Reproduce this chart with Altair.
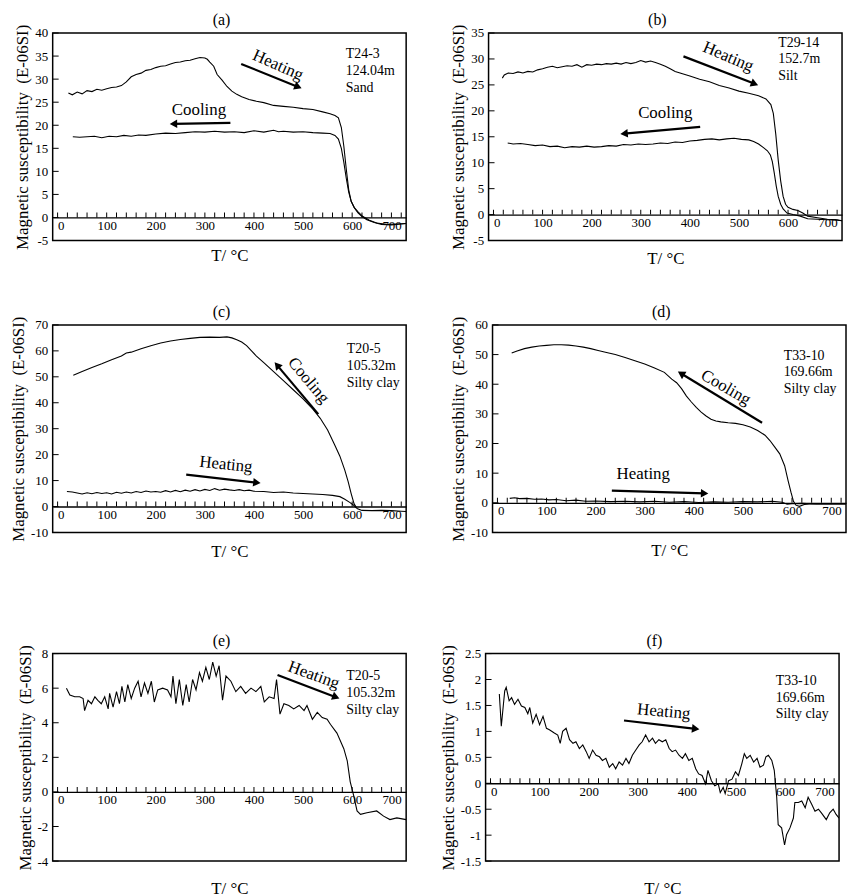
import math
import altair as alt
import pandas as pd

FONT = "Liberation Serif"
W, H = 356, 209
X_DOMAIN = [-10, 710]
X_LABELS = [0, 100, 200, 300, 400, 500, 600, 700]
X_MINOR = list(range(0, 701, 20))
Y_TITLE = "Magnetic susceptibility\u00a0\u00a0(E-06SI)"
X_TITLE = "T/ \u00b0C"

# ---------------- (a) T24-3 ----------------
A_HT = [22, 30, 40, 50, 60, 70, 80, 90, 100, 110, 120, 130, 140, 150, 160, 170, 180, 190, 200, 210,
        220, 230, 240, 250, 260, 270, 280, 290, 300, 305, 310, 318, 325, 335, 345, 355, 365, 375, 390, 405,
        420, 440, 460, 480, 500, 520, 540, 555, 565, 572, 578, 583, 588, 593, 598, 605, 612, 620, 630, 645,
        660, 680, 700, 710]
A_HV = [27.0, 26.6, 27.2, 26.8, 27.5, 27.3, 27.8, 27.6, 27.9, 28.2, 28.3, 28.6, 29.4, 30.5, 31.0, 31.3, 31.9, 32.1, 32.5, 32.8,
        32.9, 33.3, 33.6, 33.7, 34.0, 34.1, 34.4, 34.7, 34.6, 34.3, 33.7, 32.8, 31.0, 29.8, 28.4, 27.4, 26.7, 26.2, 25.6, 25.2,
        24.9, 24.3, 24.1, 23.9, 23.6, 23.4, 22.9, 22.5, 22.1, 21.6, 19.5, 15.5, 10.5, 6.0, 3.5, 2.0, 1.0, 0.2, -0.5, -1.1,
        -1.5, -1.6, -1.4, -1.3]
A_CT = [31, 45, 60, 75, 90, 105, 120, 135, 150, 165, 180, 200, 220, 240, 260, 280, 300, 320, 340, 360,
        380, 400, 420, 440, 450, 460, 480, 500, 520, 540, 555, 565, 572, 578, 583, 588, 593, 598, 604, 612,
        622, 635, 650, 670, 690, 710]
A_CV = [17.5, 17.4, 17.5, 17.6, 17.3, 17.6, 17.5, 17.8, 17.6, 17.9, 17.8, 18.1, 18.3, 18.2, 18.4, 18.6, 18.5, 18.7, 18.5, 18.6,
        18.4, 18.8, 18.5, 18.9, 18.6, 18.7, 18.5, 18.6, 18.4, 18.3, 18.2, 17.8, 17.0, 15.0, 12.0, 8.5, 5.5, 3.5, 2.2, 1.2,
        0.2, -0.6, -1.2, -1.5, -1.4, -1.3]

# ---------------- (b) T29-14 ----------------
B_HT = [18, 22, 30, 40, 50, 60, 70, 80, 90, 100, 110, 120, 130, 140, 150, 160, 170, 180, 190, 200,
        210, 220, 230, 240, 250, 260, 270, 280, 290, 300, 310, 320, 330, 340, 350, 360, 370, 380, 390, 400,
        420, 440, 460, 480, 500, 520, 540, 555, 565, 570, 575, 580, 585, 590, 595, 600, 610, 620, 630, 640,
        660, 680, 700, 710]
B_HV = [26.3, 26.9, 27.3, 27.2, 27.5, 27.3, 27.6, 27.5, 27.9, 28.1, 28.4, 28.6, 28.3, 28.5, 28.7, 28.6, 28.9, 28.4, 28.9, 28.8,
        29.0, 28.9, 29.1, 29.0, 29.2, 29.0, 29.3, 29.1, 29.3, 29.7, 29.4, 29.6, 29.3, 29.0, 28.6, 28.1, 27.6, 27.3, 27.0, 26.7,
        26.1, 25.6, 24.9, 24.4, 23.8, 23.4, 22.9, 22.3, 21.2, 19.5, 15.5, 10.5, 6.5, 3.5, 2.0, 1.4, 1.0, 0.8, 0.3, -0.3,
        -0.6, -0.9, -1.0, -1.2]
B_CT = [29, 40, 55, 70, 85, 100, 115, 130, 145, 160, 175, 190, 205, 220, 235, 250, 265, 280, 295, 310,
        325, 340, 355, 370, 385, 400, 415, 430, 445, 460, 475, 490, 505, 520, 530, 540, 550, 558, 564, 568,
        572, 576, 580, 585, 590, 598, 610, 625, 640, 660, 680, 700, 710]
B_CV = [13.8, 13.6, 13.7, 13.5, 13.3, 13.4, 13.1, 13.2, 12.9, 13.1, 13.0, 13.2, 13.0, 13.1, 13.3, 13.2, 13.5, 13.4, 13.6, 13.5,
        13.6, 13.8, 13.7, 14.0, 13.9, 14.2, 14.3, 14.5, 14.6, 14.4, 14.6, 14.7, 14.5, 14.4, 14.1, 13.6, 12.9, 12.3, 11.5, 10.2,
        8.0, 5.5, 3.5, 2.0, 1.1, 0.3, 0.0, -0.3, -0.8, -0.9, -1.0, -1.1, -1.2]

# ---------------- (c) T20-5 ----------------
C_CT = [32, 50, 70, 90, 110, 130, 140, 150, 170, 190, 210, 230, 250, 270, 290, 310, 330, 345, 355, 365,
        375, 385, 395, 405, 420, 440, 460, 480, 500, 520, 535, 550, 565, 575, 585, 592, 598, 604, 610, 620,
        640, 660, 680, 700, 710]
C_CV = [50.6, 52.0, 53.6, 55.0, 56.6, 58.0, 59.2, 59.5, 60.8, 62.0, 63.0, 63.8, 64.4, 64.8, 65.2, 65.3, 65.2, 65.4, 65.0, 64.3,
        63.4, 62.0, 60.0, 58.0, 55.5, 52.0, 48.5, 45.0, 41.5, 37.5, 34.0, 29.5, 23.5, 19.4, 14.0, 9.5, 5.0, 1.0, -0.8, -1.5,
        -1.6, -1.5, -1.6, -1.8, -1.9]
C_HT = [19, 30, 40, 50, 60, 70, 80, 90, 100, 110, 120, 130, 140, 150, 160, 170, 180, 190, 200, 210,
        220, 230, 240, 250, 260, 270, 280, 290, 300, 310, 320, 330, 340, 350, 360, 370, 380, 390, 400, 420,
        440, 460, 480, 500, 520, 540, 560, 575, 585, 595, 603, 608]
C_HV = [5.8, 5.6, 5.2, 4.8, 5.3, 4.9, 5.4, 5.0, 5.3, 4.8, 5.5, 5.1, 5.6, 5.2, 5.8, 5.4, 6.0, 5.6, 5.8, 5.5,
        6.1, 5.6, 6.2, 5.7, 6.3, 5.9, 6.5, 6.0, 6.6, 6.2, 6.9, 6.3, 6.7, 6.4, 6.2, 6.5, 6.1, 6.3, 5.9, 5.8,
        5.4, 5.6, 5.2, 5.0, 4.8, 4.6, 4.3, 3.8, 2.8, 1.6, 0.5, -0.5]

# ---------------- (d) T33-10 ----------------
D_CT = [29, 40, 55, 70, 85, 100, 115, 130, 145, 160, 175, 190, 205, 220, 240, 260, 280, 300, 320, 340,
        355, 365, 375, 385, 395, 405, 415, 425, 435, 445, 455, 470, 485, 500, 515, 530, 545, 555, 565, 575,
        585, 592, 598, 603, 608, 615, 625, 640, 660, 680, 700, 710]
D_CV = [50.5, 51.2, 52.0, 52.5, 52.9, 53.1, 53.3, 53.3, 53.2, 52.9, 52.5, 52.0, 51.4, 50.8, 50.0, 49.0, 47.9, 46.8, 45.5, 44.0,
        41.7, 40.5, 38.5, 36.0, 34.0, 32.2, 30.6, 29.3, 28.2, 27.6, 27.3, 27.0, 26.8, 26.3, 25.6, 24.4, 22.8, 21.0, 18.8, 16.5,
        12.5, 7.5, 3.5, 0.5, -0.8, -1.2, -0.6, -0.3, -0.4, -0.3, -0.4, -0.4]
D_HT = [25, 35, 45, 60, 75, 90, 105, 120, 140, 160, 180, 200, 230, 260, 290, 320, 350, 380, 410, 440,
        470, 500, 530, 560, 580, 590, 600, 620, 650, 680, 710]
D_HV = [1.5, 1.7, 1.4, 1.5, 1.2, 1.3, 1.0, 1.1, 0.7, 0.9, 0.5, 0.6, 0.4, 0.5, 0.3, 0.5, 0.2, 0.4, 0.1, 0.3,
        0.2, 0.4, 0.3, 0.5, 0.2, -0.5, -0.3, -0.2, -0.4, -0.3, -0.4]

# ---------------- (e) T20-5 heating ----------------
E_T = [18, 25, 35, 45, 52, 55, 62, 69, 76, 82, 89, 96, 103, 106, 113, 120, 126, 131, 137, 143,
       150, 157, 164, 170, 177, 184, 191, 197, 204, 214, 224, 231, 235, 241, 248, 255, 262, 268, 275, 282,
       289, 295, 302, 309, 316, 323, 329, 336, 343, 353, 363, 373, 383, 394, 404, 414, 421, 431, 441, 446,
       453, 461, 471, 481, 492, 502, 508, 519, 529, 539, 549, 556, 569, 583, 590, 596, 603, 610, 617, 630,
       650, 664, 677, 691, 710]
E_V = [6.0, 5.6, 5.5, 5.5, 5.4, 4.7, 5.3, 5.1, 5.5, 5.3, 5.1, 5.5, 4.8, 5.7, 4.9, 5.8, 5.1, 6.1, 5.2, 6.2,
       5.4, 6.0, 6.4, 5.5, 6.3, 5.7, 6.4, 5.2, 5.9, 6.0, 5.9, 5.5, 6.7, 5.1, 6.5, 5.0, 6.2, 5.2, 6.5, 5.9,
       6.9, 6.4, 7.2, 6.5, 7.5, 6.7, 7.3, 5.3, 6.7, 6.4, 5.8, 6.1, 5.7, 6.0, 5.8, 6.1, 5.2, 5.5, 5.4, 6.5,
       4.5, 5.1, 5.0, 4.8, 5.0, 4.7, 5.0, 4.2, 4.6, 4.3, 4.2, 3.9, 3.4, 2.5, 1.8, 0.6, -0.2, -1.1, -1.3, -1.2,
       -1.1, -1.4, -1.6, -1.5, -1.6]

# ---------------- (f) T33-10 heating ----------------
F_T = [18, 22, 26, 29, 32, 38, 43, 49, 56, 63, 70, 76, 80, 86, 93, 100, 107, 114, 120, 130,
       137, 142, 147, 154, 161, 168, 174, 181, 188, 195, 201, 208, 215, 222, 228, 235, 242, 249, 255, 262,
       269, 276, 282, 289, 296, 303, 309, 316, 323, 330, 336, 343, 350, 357, 364, 370, 377, 384, 391, 397,
       404, 411, 418, 424, 431, 438, 443, 450, 457, 464, 468, 474, 478, 485, 492, 499, 505, 512, 517, 522,
       529, 536, 543, 549, 556, 561, 566, 573, 578, 583, 586, 593, 599, 603, 610, 617, 620, 627, 634, 641,
       647, 654, 661, 668, 674, 684, 691, 698, 704, 710]
F_V = [1.72, 1.10, 1.49, 1.78, 1.85, 1.59, 1.65, 1.52, 1.62, 1.49, 1.46, 1.34, 1.46, 1.16, 1.33, 1.13, 1.29, 1.06, 1.03, 0.97,
       0.93, 0.77, 1.00, 1.06, 0.84, 0.77, 0.80, 0.67, 0.74, 0.61, 0.48, 0.64, 0.54, 0.51, 0.44, 0.48, 0.31, 0.38, 0.28, 0.41,
       0.35, 0.48, 0.38, 0.54, 0.64, 0.74, 0.80, 0.93, 0.80, 0.87, 0.77, 0.84, 0.80, 0.84, 0.67, 0.61, 0.64, 0.54, 0.48, 0.57,
       0.44, 0.48, 0.28, 0.18, 0.15, -0.01, 0.25, 0.05, -0.05, -0.01, -0.18, -0.08, -0.20, 0.05, 0.08, 0.22, 0.15, 0.38, 0.57, 0.48,
       0.54, 0.41, 0.48, 0.31, 0.35, 0.51, 0.54, 0.44, 0.25, -0.27, -0.80, -0.86, -1.19, -0.99, -0.86, -0.67, -0.37, -0.37, -0.34, -0.47,
       -0.27, -0.40, -0.54, -0.50, -0.57, -0.70, -0.57, -0.50, -0.60, -0.67]

# annotations: arrows (T1, V1, T2, V2) with head at the second point; words (text, T, V, angle)
A_ARROWS = [(374, 33.3, 490, 28.3), (352, 20.5, 236, 20.3)]
A_WORDS = [("Heating", 449, 33.0, 24), ("Cooling", 288, 23.2, 0)]
B_ARROWS = [(387, 30.5, 532, 25.2), (421, 16.9, 266, 15.6)]
B_WORDS = [("Heating", 478, 30.4, 23), ("Cooling", 350, 19.6, 0)]
C_ARROWS = [(531, 35.6, 447, 54.5), (262, 12.3, 406, 9.2)]
C_WORDS = [("Cooling", 511, 48.6, 50), ("Heating", 343, 16.2, 6)]
D_ARROWS = [(539, 27.0, 374, 43.6), (233, 4.1, 422, 3.2)]
D_WORDS = [("Cooling", 465, 38.9, 30), ("Heating", 297, 9.6, 0)]
E_ARROWS = [(448, 6.76, 567, 5.48)]
E_WORDS = [("Heating", 522, 6.75, 20)]
F_ARROWS = [(272, 1.21, 418, 1.05)]
F_WORDS = [("Heating", 353, 1.38, 5)]

SAMPLES = {
    "a": ("T24-3\n124.04m\nSand", 587, 37.0),
    "b": ("T29-14\n152.7m\nSilt", 580, 34.5),
    "c": ("T20-5\n105.32m\nSilty clay", 589, 63.3),
    "d": ("T33-10\n169.66m\nSilty clay", 583, 52.0),
    "e": ("T20-5\n105.32m\nSilty clay", 588, 7.1),
    "f": ("T33-10\n169.66m\nSilty clay", 581, 2.11),
}


def make_panel(letter, curves, ydom, yticks, arrows, words, title_gap):
    xs = alt.Scale(domain=X_DOMAIN, nice=False, zero=False)
    ys = alt.Scale(domain=ydom, nice=False, zero=False)
    rows = []
    for name, ts, vs in curves:
        for i, (t, v) in enumerate(zip(ts, vs)):
            rows.append({"T": t, "V": v, "s": name, "i": i})
    df = pd.DataFrame(rows)

    z = H * (0 - ydom[0]) / (ydom[1] - ydom[0])
    lab_pad, lab_fs = 2, 13
    tpad = z + title_gap - lab_pad - lab_fs

    xaxis = alt.Axis(values=X_LABELS, offset=-z, ticks=False, domain=True, domainColor="black",
                     domainWidth=1.3, labelFlush=8, labelFontSize=lab_fs, labelPadding=lab_pad,
                     labelExpr="'' + datum.value", title=X_TITLE, titleFontSize=17,
                     titlePadding=tpad, grid=False)
    yaxis = alt.Axis(values=yticks, ticks=False, domain=False, labelFontSize=13, labelPadding=5,
                     labelExpr="'' + datum.value", title=Y_TITLE, titleFontSize=17,
                     titlePadding=3, grid=False)

    def X(field):
        return alt.X(field, scale=xs, axis=xaxis)

    def Y(field):
        return alt.Y(field, scale=ys, axis=yaxis)

    lines = alt.Chart(df).mark_line(color="black", strokeWidth=1.1, clip=True).encode(
        x=X("T:Q"), y=Y("V:Q"), detail="s:N", order="i:Q",
    )
    minor = alt.Chart(pd.DataFrame({"T": X_MINOR, "V": [0] * len(X_MINOR)})).mark_tick(
        orient="vertical", size=5, thickness=1, color="black", yOffset=-2.5, opacity=1
    ).encode(x=X("T:Q"), y=Y("V:Q"))
    ytk = alt.Chart(pd.DataFrame({"V": yticks, "T": [X_DOMAIN[0]] * len(yticks)})).mark_tick(
        orient="horizontal", size=6, thickness=1, color="black", xOffset=3, opacity=1
    ).encode(x=X("T:Q"), y=Y("V:Q"))

    yr = ydom[1] - ydom[0]
    xr = X_DOMAIN[1] - X_DOMAIN[0]
    arr = []
    for (x1, y1, x2, y2) in arrows:
        dx = (x2 - x1) / xr * W
        dy = -(y2 - y1) / yr * H
        ang = math.degrees(math.atan2(dy, dx)) % 360
        arr.append({"T": x1, "V": y1, "T2": x2, "V2": y2, "ang": ang})
    adf = pd.DataFrame(arr)
    rule = alt.Chart(adf).mark_rule(color="black", strokeWidth=2.2).encode(
        x=X("T:Q"), y=Y("V:Q"), x2="T2:Q", y2="V2:Q")
    head = alt.Chart(adf).mark_point(shape="triangle-right", filled=True, size=75, color="black",
                                     opacity=1).encode(
        x=X("T2:Q"), y=Y("V2:Q"), angle=alt.Angle("ang:Q", scale=None))

    layers = [lines, minor, ytk, rule, head]
    for (txt, tx, ty, ta) in words:
        layers.append(
            alt.Chart(pd.DataFrame({"T": [tx], "V": [ty], "t": [txt]})).mark_text(
                font=FONT, fontSize=17, angle=ta, color="black"
            ).encode(x=X("T:Q"), y=Y("V:Q"), text="t:N"))
    stxt, sx, sy = SAMPLES[letter]
    layers.append(
        alt.Chart(pd.DataFrame({"T": [sx], "V": [sy], "t": [stxt]})).mark_text(
            font=FONT, fontSize=14, align="left", baseline="top", lineBreak="\n", lineHeight=17,
            color="black"
        ).encode(x=X("T:Q"), y=Y("V:Q"), text="t:N"))

    return alt.layer(*layers).properties(
        width=W, height=H,
        title=alt.TitleParams(text=f"({letter})", font=FONT, fontSize=16, fontWeight="normal",
                              color="black", offset=-4, frame="group", dx=-8),
    )


pa = make_panel("a", [("Heating", A_HT, A_HV), ("Cooling", A_CT, A_CV)], [-5, 40],
                [-5, 0, 5, 10, 15, 20, 25, 30, 35, 40], A_ARROWS, A_WORDS, 7)
pb = make_panel("b", [("Heating", B_HT, B_HV), ("Cooling", B_CT, B_CV)], [-5, 35],
                [-5, 0, 5, 10, 15, 20, 25, 30, 35], B_ARROWS, B_WORDS, 10)
pc = make_panel("c", [("Cooling", C_CT, C_CV), ("Heating", C_HT, C_HV)], [-10, 70],
                [-10, 0, 10, 20, 30, 40, 50, 60, 70], C_ARROWS, C_WORDS, 11)
pd_ = make_panel("d", [("Cooling", D_CT, D_CV), ("Heating", D_HT, D_HV)], [-10, 60],
                 [-10, 0, 10, 20, 30, 40, 50, 60], D_ARROWS, D_WORDS, 10)
pe = make_panel("e", [("Heating", E_T, E_V)], [-4, 8], [-4, -2, 0, 2, 4, 6, 8],
                E_ARROWS, E_WORDS, 20)
pf = make_panel("f", [("Heating", F_T, F_V)], [-1.5, 2.5],
                [-1.5, -1, -0.5, 0, 0.5, 1, 1.5, 2, 2.5], F_ARROWS, F_WORDS, 20)

row1 = alt.hconcat(pa, pb, spacing=42)
row2 = alt.hconcat(pc, pd_, spacing=41)
row3 = alt.hconcat(pe, pf, spacing=31)

chart = alt.vconcat(alt.vconcat(row1, row2, spacing=36), row3, spacing=72).properties(
    padding=0
).configure_view(stroke="black", strokeWidth=1.5).configure_axis(
    labelFont=FONT, titleFont=FONT, labelColor="black", titleColor="black",
    titleFontWeight="normal"
)

chart.save("out.html", embed_options={"renderer": "svg", "actions": False})
